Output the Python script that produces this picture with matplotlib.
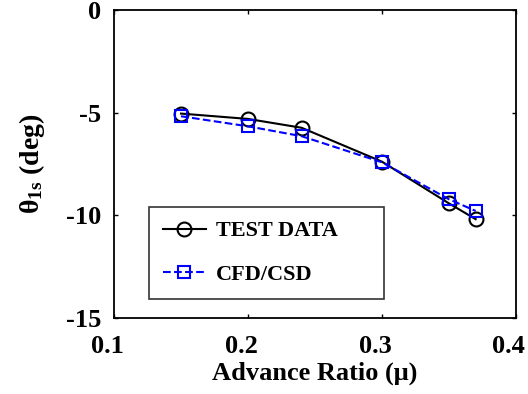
import matplotlib
matplotlib.use("Agg")
import matplotlib.pyplot as plt
from matplotlib.transforms import ScaledTranslation

# ============== Daten ==============
mu = [0.15, 0.20, 0.24, 0.30, 0.35, 0.37]
test_data = [-5.05, -5.31, -5.74, -7.39, -9.42, -10.19]
cfd_csd = [-5.18, -5.67, -6.15, -7.42, -9.22, -9.79]

x_ticks = [0.1, 0.2, 0.3, 0.4]
y_ticks = [-15, -10, -5, 0]

# ============== Stil ==============
plt.rcParams["font.family"] = ["Liberation Serif", "DejaVu Serif"]
plt.rcParams["font.weight"] = "bold"
plt.rcParams["mathtext.fontset"] = "custom"
plt.rcParams["mathtext.rm"] = "Liberation Serif:bold"
plt.rcParams["mathtext.it"] = "Liberation Serif:bold"
plt.rcParams["mathtext.bf"] = "Liberation Serif:bold"

fig = plt.figure(figsize=(5.28, 3.94), dpi=100)
ax = fig.add_axes([0.216, 0.193, 0.761, 0.782])

ax.plot(mu, test_data, "-o", color="black", lw=1.5, ms=10,
        mfc="none", mew=1.5, label="TEST DATA")
ax.plot(mu, cfd_csd, "--s", color="#0000ff", lw=1.5, ms=9,
        mfc="none", mew=1.5, label="CFD/CSD")

ax.set_xlim(0.1, 0.4)
ax.set_ylim(-15, 0)
ax.set_xticks(x_ticks)
ax.set_yticks(y_ticks)
ax.set_xticklabels([f"{t:g}" for t in x_ticks])
ax.set_yticklabels([f"{t:g}" for t in y_ticks])
ax.tick_params(direction="in", length=3, width=1, top=True, right=True,
               labelsize=19)
ax.tick_params(axis="x", pad=12)
ax.tick_params(axis="y", pad=9)
# Beschriftungen der x-Achse leicht nach links versetzt (wie im Original)
shift = ScaledTranslation(-7 / 100, 0, fig.dpi_scale_trans)
for lbl in ax.get_xticklabels():
    lbl.set_transform(lbl.get_transform() + shift)
for sp in ax.spines.values():
    sp.set_linewidth(1.3)

ax.set_xlabel("Advance Ratio (\u03bc)", fontsize=19, fontweight="bold", labelpad=3)
ax.set_ylabel(r"$\theta_{1s}$ (deg)", fontsize=20, fontweight="bold", labelpad=14)

leg = ax.legend(loc="upper left", bbox_to_anchor=(0.087, 0.068, 0.585, 0.292),
                mode="expand", fontsize=16, frameon=True, fancybox=False,
                edgecolor="black", handlelength=1.95, borderpad=0.62,
                labelspacing=1.05, handletextpad=0.45, borderaxespad=0)
leg.get_frame().set_linewidth(1.2)
for t in leg.get_texts():
    t.set_fontweight("bold")

plt.savefig("out.png", dpi=100)
